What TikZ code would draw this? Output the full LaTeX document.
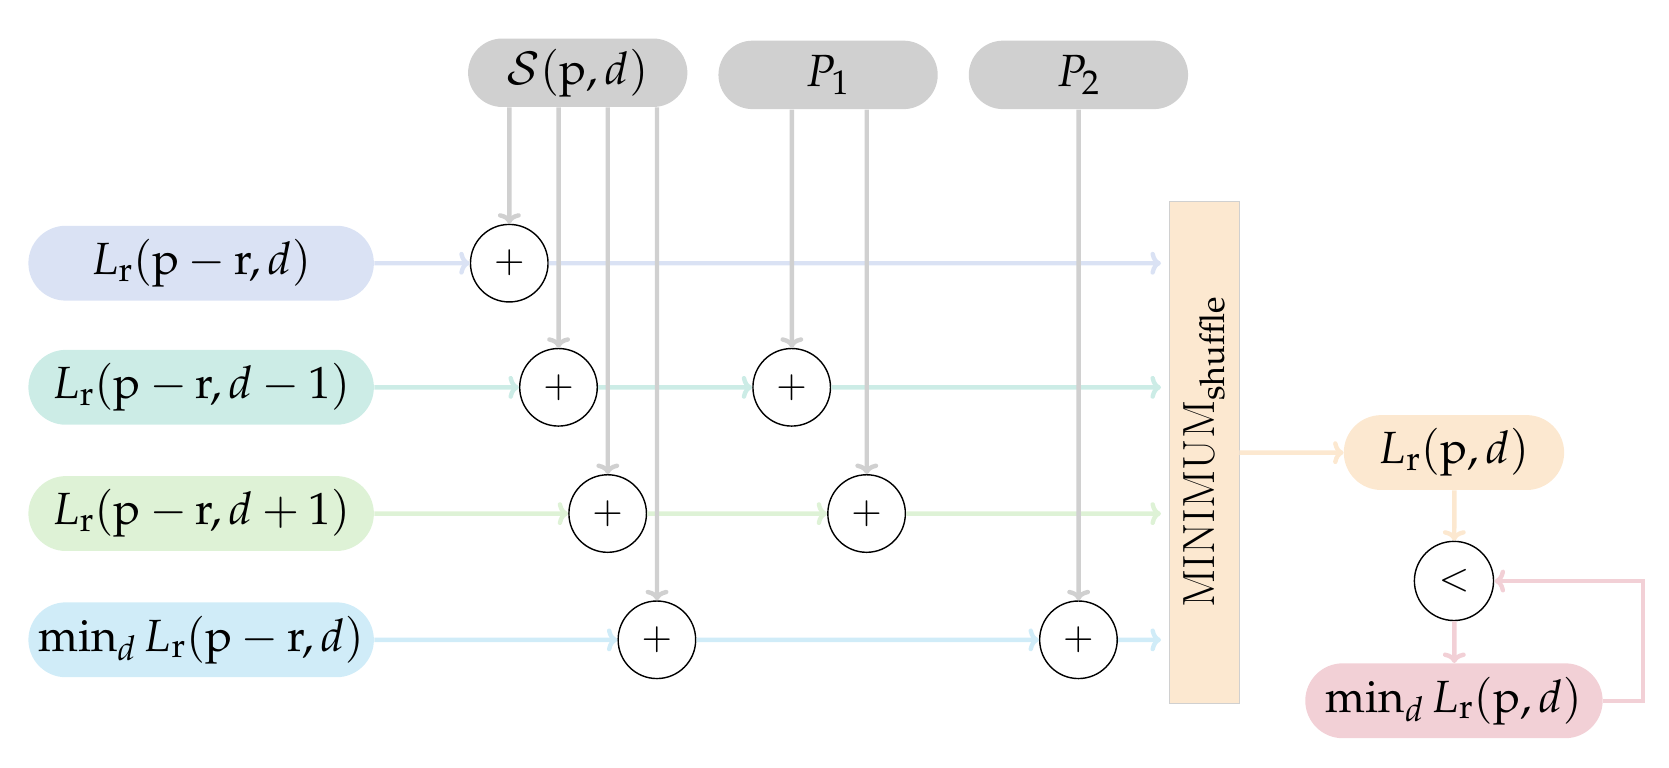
\documentclass[tikz,border=0pt]{standalone}
\usepackage{mathpazo}
\usepackage{xcolor}
\definecolor{graybox}{RGB}{208,208,208}
\definecolor{blueA}{RGB}{218,226,244}
\definecolor{tealA}{RGB}{204,236,230}
\definecolor{greenA}{RGB}{222,242,214}
\definecolor{cyanA}{RGB}{208,236,248}
\definecolor{orangeA}{RGB}{252,232,208}
\definecolor{redA}{RGB}{242,208,214}
\usetikzlibrary{arrows.meta,positioning,shapes.misc}
\tikzstyle{pill} = [
    rounded rectangle,
    inner sep=0pt,
    minimum height=1.4cm,
    text centered,
    font=\fontsize{24}{28}\selectfont
]
\tikzstyle{flow} = [
    -{To[length=6pt,width=13pt]},
    line width=2.5pt
]
\begin{document}
\begin{tikzpicture}[
    x=0.02cm, y=-0.02cm,
    scale=1.07, transform shape,
    plus/.style={circle, draw, thick, fill=white, minimum size=1.45cm, inner sep=0pt, font=\fontsize{20}{24}\selectfont},
    src/.style={pill, fill=graybox, minimum width=4.1cm, minimum height=1.28cm}
]
    \useasboundingbox (0,0) rectangle (1560,717);

    % Sources on top
    \node[src] (S) at (540,68) {$\mathcal{S}(\mathrm{p},d)$};
    \node[src] (P1) at (774,70) {$P_1$};
    \node[src] (P2) at (1008,70) {$P_2$};

    % Inputs
    \node[pill, fill=blueA, minimum width=6.46cm] (in1) at (188,246) {$L_\mathrm{r}(\mathrm{p}-\mathrm{r},d)$};
    \node[pill, fill=tealA, minimum width=6.46cm] (in2) at (188,362) {$L_\mathrm{r}(\mathrm{p}-\mathrm{r},d-1)$};
    \node[pill, fill=greenA, minimum width=6.46cm] (in3) at (188,480) {$L_\mathrm{r}(\mathrm{p}-\mathrm{r},d+1)$};
    \node[pill, fill=cyanA, minimum width=6.46cm] (in4) at (188,598) {$\min_d L_\mathrm{r}(\mathrm{p}-\mathrm{r},d)$};

    % Adders
    \node[plus] (a1) at (476,246) {$+$};
    \node[plus] (a2) at (522,362) {$+$};
    \node[plus] (b2) at (740,362) {$+$};
    \node[plus] (a3) at (568,480) {$+$};
    \node[plus] (b3) at (810,480) {$+$};
    \node[plus] (a4) at (614,598) {$+$};
    \node[plus] (b4) at (1008,598) {$+$};

    % Minimum block
    \node[draw=graybox, fill=orangeA, minimum width=1.3cm, minimum height=9.38cm, inner sep=0pt] (minbox) at (1125.5,422.5) {};
    \node[rotate=90, font=\fontsize{24}{28}\selectfont] at (minbox) {MINIMUM$_\mathrm{shuffle}$};
    \coordinate (e1) at (1085,246);
    \coordinate (e2) at (1085,362);
    \coordinate (e3) at (1085,480);
    \coordinate (e4) at (1085,598);

    % Output side
    \node[pill, fill=orangeA, minimum width=4.12cm] (out) at (1359,423) {$L_\mathrm{r}(\mathrm{p},d)$};
    \node[plus, minimum size=1.48cm] (cmp) at (1359,543) {$<$};
    \node[pill, fill=redA, minimum width=5.56cm] (best) at (1359,655) {$\min_d L_\mathrm{r}(\mathrm{p},d)$};

    % Horizontal flows
    \begin{scope}[flow]
        \draw[blueA] (in1) -- (a1);
        \draw[blueA] (a1) -- (e1);
        \draw[tealA] (in2) -- (a2);
        \draw[tealA] (a2) -- (b2);
        \draw[tealA] (b2) -- (e2);
        \draw[greenA] (in3) -- (a3);
        \draw[greenA] (a3) -- (b3);
        \draw[greenA] (b3) -- (e3);
        \draw[cyanA] (in4) -- (a4);
        \draw[cyanA] (a4) -- (b4);
        \draw[cyanA] (b4) -- (e4);
        \draw[orangeA] (minbox.east |- out) -- (out);
        \draw[orangeA] (out) -- (cmp);
        \draw[redA] (cmp) -- (best);
        \draw[redA] (best.east) -| ++(37,0) |- (cmp.east);
    \end{scope}

    % Vertical flows
    \begin{scope}[flow, graybox]
        \draw (S.south -| a1) -- (a1);
        \draw (S.south -| a2) -- (a2);
        \draw (S.south -| a3) -- (a3);
        \draw (S.south -| a4) -- (a4);
        \draw (P1.south -| b2) -- (b2);
        \draw (P1.south -| b3) -- (b3);
        \draw (P2) -- (b4);
    \end{scope}
\end{tikzpicture}
\end{document}
